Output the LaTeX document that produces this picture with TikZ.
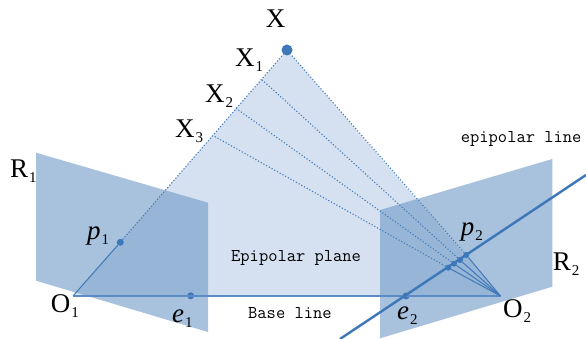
\documentclass[tikz,border=0pt]{standalone}
\usepackage{fontspec}
\setmainfont{Liberation Serif}
\usetikzlibrary{positioning}
\definecolor{planeblue}{HTML}{D5E1F0}
\definecolor{viewblue}{HTML}{729CC9}
\definecolor{lineblue}{HTML}{3F78B9}
\newcommand{\lab}[2]{#1\kern1pt\raisebox{-5pt}{\fontsize{15}{15}\selectfont #2}}

\begin{document}
\begin{tikzpicture}[x=1pt, y=-1pt]
\tikzstyle{lbl}=[inner sep=0pt, anchor=base west, font=\fontsize{27}{27}\selectfont]
\tikzstyle{monolbl}=[inner sep=0pt, anchor=base west, font=\fontsize{18}{18}\selectfont\ttfamily]
\tikzstyle{pt}=[circle, fill=lineblue, inner sep=0pt, minimum size=7pt]
\tikzstyle{smallpt}=[circle, fill=lineblue, inner sep=0pt, minimum size=6pt]
\tikzstyle{view}=[fill=viewblue, fill opacity=0.62]
\tikzstyle{ray}=[draw=lineblue, line width=1pt]
\tikzstyle{dotray}=[draw=lineblue, line width=1.1pt, dotted]
\useasboundingbox (0,0) rectangle (586,339);
\coordinate (O1) at (73,296);
\coordinate (O2) at (500.5,296);
\coordinate (X1) at (262.3,80);
\coordinate (X2) at (236,108.3);
\coordinate (X3) at (213.3,135.7);
\coordinate (lineA) at (586,175);
\coordinate (lineB) at (340,339);
% planes
\fill[planeblue] (287,50) -- (O1) -- (O2) -- cycle;
\fill[view] (36,152.7) -- (208,202.7) -- (208,332) -- (36,280.7) -- cycle;
\fill[view] (380,210) -- (552.3,159) -- (552.3,286.7) -- (380,338.3) -- cycle;
% points
\node (X) [pt, minimum size=11pt] at (287,50) {};
\node (p1) [pt] at (120.3,242.3) {};
\node (e1) [pt] at (190.7,295.8) {};
\node (e2) [pt] at (406,296) {};
\node (p2) [smallpt] at (466.3,255) {};
\node (p2a) [smallpt] at (460,260) {};
\node (p2b) [smallpt] at (454,263.7) {};
\node (p2c) [smallpt] at (448.3,267.7) {};
% rays
\draw[ray] (O1) -- (p1);
\draw[dotray] (p1) -- (X);
\draw[ray, draw=lineblue!85, line width=1.2pt] (O1) -- (O2);
\draw[ray] (O2) -- (p2);
\draw[ray] (O2) -- (p2a);
\draw[ray] (O2) -- (p2b);
\draw[ray] (O2) -- (p2c);
\draw[dotray] (p2) -- (X);
\draw[dotray] (p2a) -- (X1);
\draw[dotray] (p2b) -- (X2);
\draw[dotray] (p2c) -- (X3);
\draw[lineblue, line width=2.4pt] (lineB) -- (lineA);
% labels
\node (tX) [lbl] at (265.7,28) {X};
\node (tX1) [lbl] at (235,67) {\lab{X}{1}};
\node (tX2) [lbl] at (205,103) {\lab{X}{2}};
\node (tX3) [lbl] at (175,138) {\lab{X}{3}};
\node (tR1) [lbl] at (10,178) {\lab{R}{1}};
\node (tR2) [lbl] at (552.7,270) {\lab{R}{2}};
\node (tO1) [lbl] at (50.7,312) {\lab{O}{1}};
\node (tO2) [lbl] at (503,317) {\lab{O}{2}};
\node (tp1) [lbl] at (87,240) {\lab{\textit{p}}{1}};
\node (tp2) [lbl] at (460.7,236) {\lab{\textit{p}}{2}};
\node (te1) [lbl] at (172,322) {\lab{\textit{e}}{1}};
\node (te2) [lbl] at (397,319) {\lab{\textit{e}}{2}};
\node (tline) [monolbl] at (460.7,142.7) {epipolar line};
\node (tplane) [monolbl] at (231,261) {Epipolar plane};
\node (tbase) [monolbl] at (248,318) {Base line};
\end{tikzpicture}
\end{document}
